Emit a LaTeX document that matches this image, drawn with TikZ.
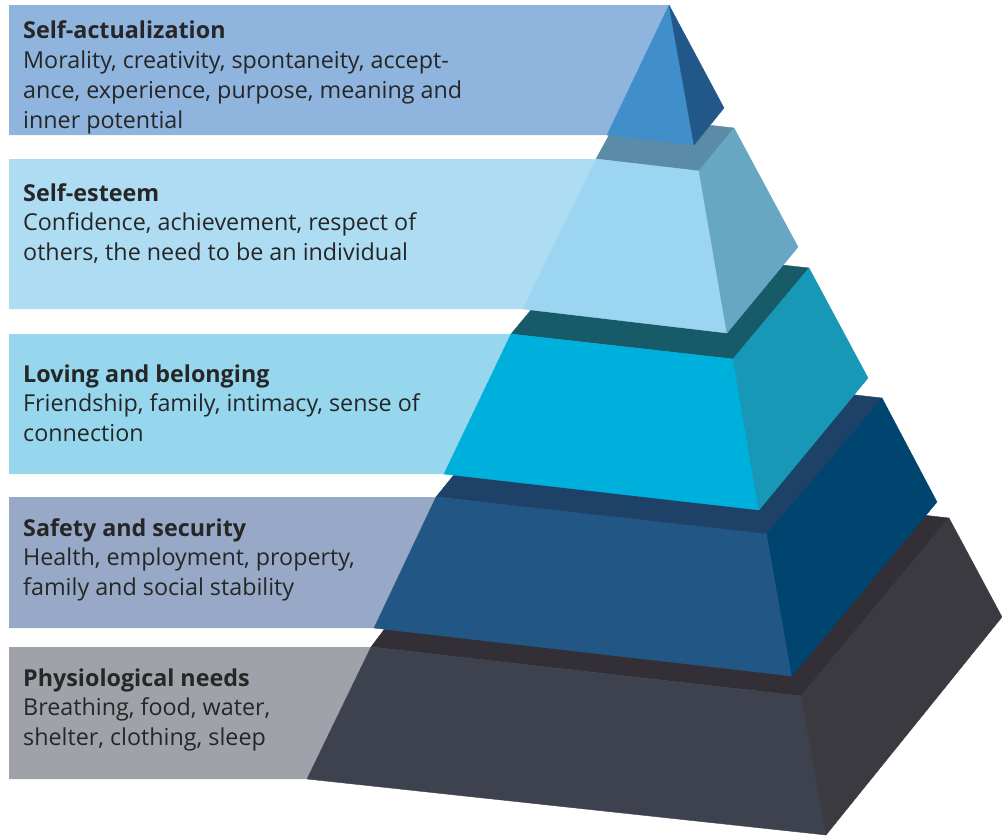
\documentclass[tikz,border=0pt]{standalone}
\usepackage{fontspec}
\setmainfont{Open Sans}
\usetikzlibrary{positioning}
\definecolor{TextDark}{HTML}{262626}
% bands on the left
\definecolor{BandAct}{HTML}{8FB4DE}
\definecolor{BandEst}{HTML}{ADDCF3}
\definecolor{BandLov}{HTML}{96D7EE}
\definecolor{BandSaf}{HTML}{97A9C6}
\definecolor{BandPhy}{HTML}{A0A2AA}
% pyramid faces
\definecolor{ActFront}{HTML}{408FCB}
\definecolor{ActSide}{HTML}{22578A}
\definecolor{EstTop}{HTML}{5A8CA8}
\definecolor{EstFront}{HTML}{9CD5F1}
\definecolor{EstSide}{HTML}{68A7C3}
\definecolor{LovTop}{HTML}{175B68}
\definecolor{LovFront}{HTML}{00B0DC}
\definecolor{LovSide}{HTML}{1798B7}
\definecolor{SafTop}{HTML}{1E4168}
\definecolor{SafFront}{HTML}{225785}
\definecolor{SafSide}{HTML}{004470}
\definecolor{PhyTop}{HTML}{323036}
\definecolor{PhyFront}{HTML}{3D424E}
\definecolor{PhySide}{HTML}{3A3A40}

\begin{document}
\begin{tikzpicture}[
    x=1pt, y=-1pt,
    face/.style  = {draw=#1, fill=#1, line width=0.4pt, line join=round},
    title/.style = {anchor=base west, inner sep=0pt, text=TextDark,
                    font=\fontsize{23.3}{30}\selectfont\bfseries},
    body/.style  = {anchor=base west, inner sep=0pt, text=TextDark, align=left,
                    font=\fontsize{23.3}{30}\selectfont},
  ]
\useasboundingbox (0,0) rectangle (1002,836);

% defining coordinates
% self-actualization (tip)
\coordinate (A0) at (669,5);
\coordinate (A1) at (607,135);
\coordinate (A2) at (694,145);
\coordinate (A3) at (724,108);

% self-esteem
\coordinate (E1) at (596,159);
\coordinate (E2) at (699,171);
\coordinate (E3) at (734,128);
\coordinate (E4) at (620,115);
\coordinate (E5) at (798,247);
\coordinate (E6) at (727,333);
\coordinate (E7) at (523,309);

% loving and belonging
\coordinate (L1) at (511,334);
\coordinate (L2) at (733,359);
\coordinate (L3) at (809,268);
\coordinate (L4) at (587,243);
\coordinate (L5) at (868,378);
\coordinate (L6) at (759,510);
\coordinate (L7) at (444,474);

% safety and security
\coordinate (S1) at (436,497);
\coordinate (S2) at (767,534);
\coordinate (S3) at (882,398);
\coordinate (S4) at (547,360);
\coordinate (S5) at (937,502);
\coordinate (S6) at (792,676);
\coordinate (S7) at (374,628);

% physiological needs
\coordinate (P1) at (371,647);
\coordinate (P2) at (801,696);
\coordinate (P3) at (949,518);
\coordinate (P4) at (506,468);
\coordinate (P5) at (1002,617);
\coordinate (P6) at (826,835);
\coordinate (P7) at (307,779);

% bands behind the pyramid
\fill[BandAct] (9,5) -- (A0) -- (A1) -- (9,135) -- cycle;
\fill[BandEst] (9,159) -- (E1) -- (E7) -- (9,309) -- cycle;
\fill[BandLov] (9,334) -- (L1) -- (L7) -- (9,474) -- cycle;
\fill[BandSaf] (9,497) -- (S1) -- (S7) -- (9,628) -- cycle;
\fill[BandPhy] (9,647) -- (P1) -- (P7) -- (9,779) -- cycle;

% pyramid, from the bottom up
\filldraw[face=PhyTop]   (P1) -- (P2) -- (P3) -- (P4) -- cycle;
\filldraw[face=PhyFront] (P1) -- (P2) -- (P6) -- (P7) -- cycle;
\filldraw[face=PhySide]  (P2) -- (P3) -- (P5) -- (P6) -- cycle;

\filldraw[face=SafTop]   (S1) -- (S2) -- (S3) -- (S4) -- cycle;
\filldraw[face=SafFront] (S1) -- (S2) -- (S6) -- (S7) -- cycle;
\filldraw[face=SafSide]  (S2) -- (S3) -- (S5) -- (S6) -- cycle;

\filldraw[face=LovTop]   (L1) -- (L2) -- (L3) -- (L4) -- cycle;
\filldraw[face=LovFront] (L1) -- (L2) -- (L6) -- (L7) -- cycle;
\filldraw[face=LovSide]  (L2) -- (L3) -- (L5) -- (L6) -- cycle;

\filldraw[face=EstTop]   (E1) -- (E2) -- (E3) -- (E4) -- cycle;
\filldraw[face=EstFront] (E1) -- (E2) -- (E6) -- (E7) -- cycle;
\filldraw[face=EstSide]  (E2) -- (E3) -- (E5) -- (E6) -- cycle;

\filldraw[face=ActFront] (A0) -- (A1) -- (A2) -- cycle;
\filldraw[face=ActSide]  (A0) -- (A3) -- (A2) -- cycle;

% texts (a body node sits on the baseline of its last line)
\node[title] (actTitle) at (23,38) {Self-actualization};
\node[body]  (actBody)  at (23,128) {Morality, creativity, spontaneity, accept-\\ance, experience, purpose, meaning and\\inner potential};

\node[title] (estTitle) at (23,201) {Self-esteem};
\node[body]  (estBody)  at (23,260) {Confidence, achievement, respect of\\others, the need to be an individual};

\node[title] (lovTitle) at (23,382) {Loving and belonging};
\node[body]  (lovBody)  at (23,441) {Friendship, family, intimacy, sense of\\connection};

\node[title] (safTitle) at (23,536) {Safety and security};
\node[body]  (safBody)  at (23,595) {Health, employment, property,\\family and social stability};

\node[title] (phyTitle) at (23,686) {Physiological needs};
\node[body]  (phyBody)  at (23,745) {Breathing, food, water,\\shelter, clothing, sleep};

\end{tikzpicture}
\end{document}
